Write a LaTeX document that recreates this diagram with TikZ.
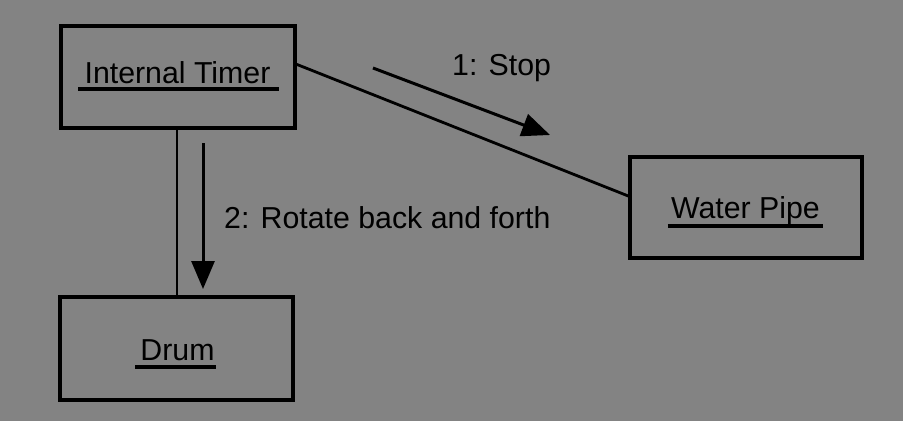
\documentclass[tikz,border=0pt]{standalone}
\usepackage{fontspec}
\setmainfont{Liberation Sans}
\usetikzlibrary{arrows.meta,calc}
\definecolor{bggray}{RGB}{131,131,131}
\begin{document}
\begin{tikzpicture}[x=1pt,y=-1pt,
  box/.style={draw=black,line width=3.4pt,rectangle,inner sep=0pt},
  lbl/.style={font=\fontsize{30.3}{33}\selectfont,inner sep=0pt,text=black},
  uline/.style={line width=3.2pt},
  link/.style={line width=2.8pt},
  msg/.style={line width=3pt,-{Triangle[length=28pt,width=23pt]}}]
\fill[bggray] (0,0) rectangle (903,421);
\useasboundingbox (0,0) rectangle (903,421);
% boxes
\node[box,minimum width=234pt,minimum height=102pt] (timer) at (178,77) {};
\node[box,minimum width=232pt,minimum height=101pt] (pipe) at (746,207.5) {};
\node[box,minimum width=233pt,minimum height=103pt] (drum) at (176.5,348.5) {};
% object names
\node[lbl,anchor=base] (ttimer) at (177.5,83) {Internal Timer};
\node[lbl,anchor=base] (tpipe) at (745.5,218) {Water Pipe};
\node[lbl,anchor=base] (tdrum) at (177.5,360) {Drum};
\draw[uline] ($(ttimer.base west)+(-6,6)$) -- ($(ttimer.base east)+(8,6)$);
\draw[uline] ($(tpipe.base west)+(-3,8)$) -- ($(tpipe.base east)+(3,8)$);
\draw[uline] ($(tdrum.base west)+(-5,7)$) -- ($(tdrum.base east)+(1,7)$);
% links
\draw[link] (timer.south -| 177,0) -- (drum.north -| 177,0);
\draw[link] ($(timer.north east)!0.38!(timer.south east)$) -- ($(pipe.north west)!0.39!(pipe.south west)$);
% messages
\coordinate (m1s) at (373,68);
\coordinate (m1e) at (550,135);
\draw[msg] (m1s) -- (m1e);
\coordinate (m2s) at (203,143);
\coordinate (m2e) at (203,289);
\draw[msg] (m2s) -- (m2e);
\node[lbl,anchor=base west] (l1) at (452,75) {1: Stop};
\node[lbl,anchor=base west] (l2) at (224,228) {2: Rotate back and forth};
\end{tikzpicture}
\end{document}
